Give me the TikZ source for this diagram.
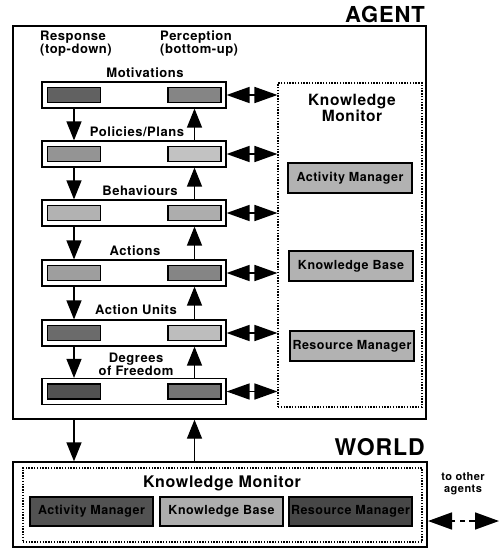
\documentclass[tikz,border=0pt]{standalone}
\usepackage{fontspec}
\setmainfont{TeX Gyre Heros}[LetterSpace=4]
\usetikzlibrary{arrows.meta}
\begin{document}
\begin{tikzpicture}[x=1pt,y=-1pt, font=\bfseries,
 frame/.style={draw, line width=1.3pt, inner sep=0},
 layer/.style={draw, line width=1.2pt, minimum width=184pt, minimum height=26pt, inner sep=0},
 cell/.style={draw, line width=1.6pt, minimum width=53pt, minimum height=15pt, inner sep=0},
 kmbox/.style={draw, line width=1.4pt, minimum width=124pt, minimum height=30pt, inner sep=0, font=\fontsize{12.5}{14}\selectfont\bfseries},
 dotbox/.style={draw, line width=1.1pt, dash pattern=on 1.4pt off 1.4pt, inner sep=0},
 lbl/.style={font=\fontsize{13}{13}\selectfont\bfseries, inner sep=0, align=center},
 arr/.style={line width=1.3pt, -{Triangle[width=15pt,length=19pt]}},
 dbl/.style={line width=1.6pt, {Triangle[width=16pt,length=23pt]}-{Triangle[width=16pt,length=23pt]}},
 tip/.style={line width=1.6pt, -{Triangle[width=17pt,length=24pt]}},
]
\useasboundingbox (0,0) rectangle (503,549);

% AGENT frame
\node[frame, minimum width=413pt, minimum height=393pt] (A) at (219.5,222.5) {};
\node[anchor=base east, inner sep=0, font=\fontsize{22}{24}\selectfont\bfseries] (AT) at (425,22) {AGENT};

\node[lbl, align=left, anchor=north west] (resp) at (40,31) {Response\\(top-down)};
\node[lbl, align=left, anchor=north west] (perc) at (160,31) {Perception\\(bottom-up)};

% layers
\foreach \n/\y/\la/\ra in {1/95/62/48, 2/154/42/24, 3/213/30/32, 4/273/38/48, 5/333/58/26, 6/391.5/68/54}{
  \node[layer] (L\n) at (134,\y) {};
  \node[cell, fill=black!\la] (L\n a) at (74,\y) {};
  \node[cell, fill=black!\ra] (L\n b) at (194.5,\y) {};
}
\node[lbl] (t1) at (145,73) {Motivations};
\node[lbl] (t2) at (137,132) {Policies/Plans};
\node[lbl] (t3) at (140,191) {Behaviours};
\node[lbl] (t4) at (135,251) {Actions};
\node[lbl] (t5) at (136,310) {Action Units};
\node[lbl] (t6) at (136,364) {Degrees\\of Freedom};

\foreach \a/\b in {1/2,2/3,3/4,4/5,5/6}{
  \draw[arr] (L\a a |- L\a.south) -- (L\b a |- L\b.north);
  \draw[arr] (L\b b |- L\b.north) -- (L\a b |- L\a.south);
}

% Knowledge monitor (agent)
\node[dotbox, minimum width=144pt, minimum height=324pt] (KM) at (350,245) {};
\node[lbl, font=\fontsize{15.5}{16.5}\selectfont\bfseries] (KMt) at (352,108) {Knowledge\\Monitor};
\node[kmbox, fill=black!30] (AM) at (350,178) {Activity Manager};
\node[kmbox, fill=black!30] (KB) at (351,266) {Knowledge Base};
\node[kmbox, fill=black!30] (RM) at (352,346) {Resource Manager};

\foreach \n in {1,...,6}{
  \draw[dbl] (L\n.east) -- (KM.west |- L\n.east);
}

% WORLD
\node[frame, minimum width=414pt, minimum height=85pt] (W) at (220,504.5) {};
\node[anchor=base east, inner sep=0, font=\fontsize{23}{25}\selectfont\bfseries] (WT) at (425,455) {WORLD};
\node[dotbox, minimum width=399pt, minimum height=74pt] (WKM) at (222.5,505) {};
\node[lbl, font=\fontsize{16}{17}\selectfont\bfseries] (WKMt) at (222,483) {Knowledge Monitor};
\node[kmbox, minimum width=123pt, minimum height=29pt, fill=black!68] (WAM) at (91.5,511.5) {Activity Manager};
\node[kmbox, minimum width=123pt, minimum height=29pt, fill=black!32] (WKB) at (221.5,511.5) {Knowledge Base};
\node[kmbox, minimum width=123pt, minimum height=29pt, fill=black!72] (WRM) at (350.5,511.5) {Resource Manager};

\draw[arr] (L6a |- A.south) -- (L6a |- W.north);
\draw[arr] (L6b |- W.north) -- (L6b |- A.south);

% to other agents
\node[lbl, font=\fontsize{11}{12}\selectfont\bfseries] (oth) at (463,484) {to other\\agents};
\coordinate (oL) at (428,521);
\coordinate (oR) at (499,521);
\coordinate (oM) at (455,521);
\coordinate (oD1) at (460,521);
\coordinate (oD2) at (465,521);
\coordinate (oM2) at (469,521);
\draw[tip] (oM) -- (oL);
\draw[line width=1.6pt] (oD1) -- (oD2);
\draw[tip] (oM2) -- (oR);
\end{tikzpicture}
\end{document}
